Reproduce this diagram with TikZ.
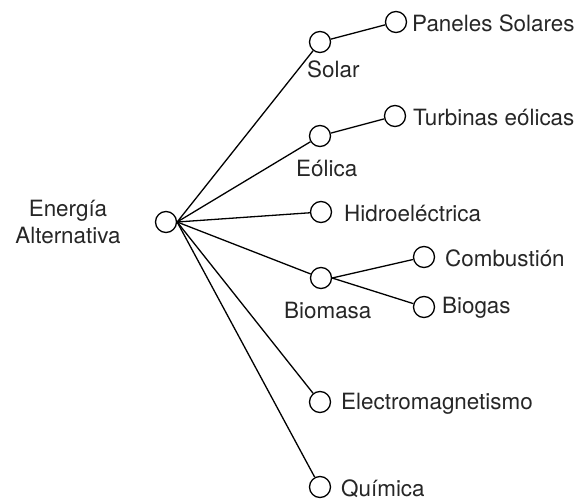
\documentclass[tikz,border=0pt]{standalone}
\usepackage{fontspec}
\setmainfont{TeX Gyre Heros}
\begin{document}
\begin{tikzpicture}[x=1bp,y=-1bp,
  dot/.style={circle,draw,line width=1.3bp,minimum size=21bp,inner sep=0pt},
  lbl/.style={font=\fontsize{22.5}{28}\selectfont,inner sep=0pt,text=black!85},
  edge/.style={line width=1.3bp}]
\useasboundingbox (0,0) rectangle (581,502);
\node[dot] (root) at (166,222) {};
\node[dot] (sol) at (320,42) {};
\node[dot] (pan) at (396,22) {};
\node[dot] (eol) at (320,136) {};
\node[dot] (tur) at (395,116) {};
\node[dot] (hid) at (321,212) {};
\node[dot] (bio) at (321,278) {};
\node[dot] (com) at (424,257) {};
\node[dot] (bgs) at (424,307) {};
\node[dot] (ele) at (320,402) {};
\node[dot] (qui) at (320,487) {};

\node[lbl,align=center] (lroot) at (68,222) {Energía\\Alternativa};
\node[lbl,anchor=base west] (lsol) at (307,78) {Solar};
\node[lbl,anchor=west] (lpan) at (412,23) {Paneles Solares};
\node[lbl,anchor=base west] (leol) at (296,177) {Eólica};
\node[lbl,anchor=west] (ltur) at (413,117) {Turbinas eólicas};
\node[lbl,anchor=west] (lhid) at (344,213) {Hidroeléctrica};
\node[lbl,anchor=base west] (lbio) at (284,318) {Biomasa};
\node[lbl,anchor=west] (lcom) at (445,258) {Combustión};
\node[lbl,anchor=west] (lbgs) at (442,308) {Biogas};
\node[lbl,anchor=west] (lele) at (341,404) {Electromagnetismo};
\node[lbl,anchor=west] (lqui) at (341,489) {Química};

\foreach \t in {sol,eol,hid,bio,ele,qui}
  \draw[edge] (root.east) -- (\t);
\draw[edge] (sol) -- (pan);
\draw[edge] (eol) -- (tur);
\draw[edge] (bio.east) -- (com);
\draw[edge] (bio.east) -- (bgs);
\end{tikzpicture}
\end{document}
